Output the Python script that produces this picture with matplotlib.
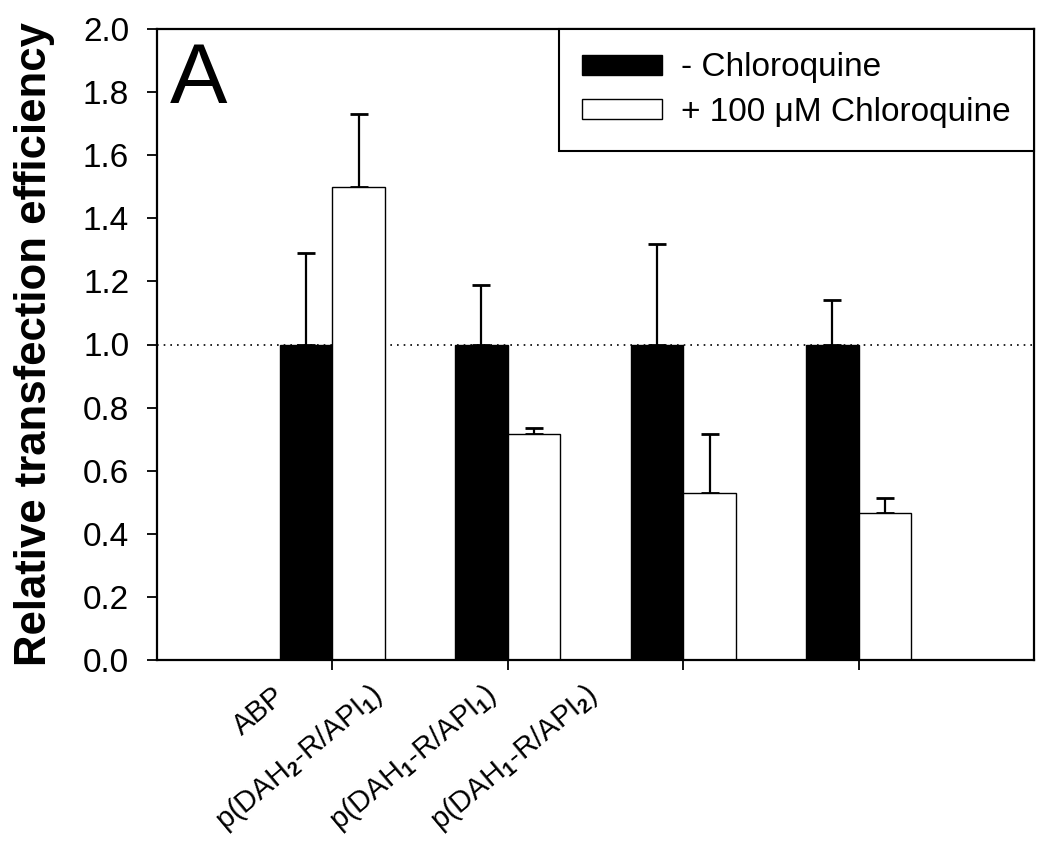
import matplotlib
matplotlib.use("Agg")
import matplotlib.pyplot as plt
import numpy as np

plt.rcParams['font.family'] = ['Liberation Sans', 'DejaVu Sans']
plt.rcParams['mathtext.fontset'] = 'custom'
plt.rcParams['mathtext.rm'] = 'Liberation Sans'
plt.rcParams['mathtext.bf'] = 'Liberation Sans:bold'
plt.rcParams['mathtext.it'] = 'Liberation Sans:italic'

# ---- data ----
categories = ['ABP',
              r'p(DAH$_{\mathbf{2}}$-R/API$_{\mathbf{1}}$)',
              r'p(DAH$_{\mathbf{1}}$-R/API$_{\mathbf{1}}$)',
              r'p(DAH$_{\mathbf{1}}$-R/API$_{\mathbf{2}}$)']
minus_chloroquine = [1.0, 1.0, 1.0, 1.0]
minus_err = [0.29, 0.19, 0.32, 0.14]
plus_chloroquine = [1.50, 0.715, 0.53, 0.465]
plus_err = [0.23, 0.02, 0.185, 0.048]
series_labels = ['- Chloroquine', '+ 100 μM Chloroquine']
yticks = [0.0, 0.2, 0.4, 0.6, 0.8, 1.0, 1.2, 1.4, 1.6, 1.8, 2.0]
reference_level = 1.0

fig = plt.figure(figsize=(10.5, 8.43), dpi=100)
ax = fig.add_axes([157/1050, 1-660/843, (1034-157)/1050, (660-29)/843])

x = np.arange(len(categories))
w = 0.3
ax.axhline(reference_level, color='black', linestyle=(0, (1, 3)), linewidth=1.2, zorder=1)

ax.bar(x - w/2, minus_chloroquine, w, color='black', edgecolor='black',
       linewidth=1.0, zorder=2, label=series_labels[0])
ax.bar(x + w/2, plus_chloroquine, w, color='white', edgecolor='black',
       linewidth=1.0, zorder=2, label=series_labels[1])
ax.errorbar(x - w/2, minus_chloroquine, yerr=[np.zeros(4), minus_err], fmt='none',
            ecolor='black', elinewidth=1.6, capsize=6.8, capthick=2.0, zorder=1.5)
ax.errorbar(x + w/2, plus_chloroquine, yerr=[np.zeros(4), plus_err], fmt='none',
            ecolor='black', elinewidth=1.6, capsize=6.8, capthick=2.0, zorder=1.5)

ax.set_xlim(-1, 4)
ax.set_ylim(0, 2.0)
ax.set_yticks(yticks)
ax.set_yticklabels([f'{v:.1f}' for v in yticks])
ax.set_xticks(x)
ax.set_xticklabels([''] * len(x))
ax.tick_params(axis='both', direction='out', length=7, width=1.3, color='black')
ax.tick_params(axis='y', labelsize=24, pad=13)
for sp in ax.spines.values():
    sp.set_linewidth(1.6)
    sp.set_color('black')

# rotated category labels
dx_pts = [-43, -100, -144, -198]
dy_pts = [-15.5, -13.5, -13.5, -13.5]
for i, lab in enumerate(categories):
    ax.annotate(lab, xy=(x[i], 0), xycoords='data',
                xytext=(dx_pts[i], dy_pts[i]), textcoords='offset points',
                rotation=40, rotation_mode='anchor', ha='right', va='top',
                fontsize=21, annotation_clip=False)

ax.set_ylabel('Relative transfection efficiency', fontsize=31.5, fontweight='bold')
ax.yaxis.set_label_coords(-0.116, 0.5)

ax.text(0.0148, (660-103)/631, 'A', transform=ax.transAxes, fontsize=62,
        ha='left', va='baseline')

leg = ax.legend(loc='upper right', bbox_to_anchor=(1.0, 1.0), borderaxespad=0,
                fontsize=24, handlelength=2.4, handleheight=0.55, handletextpad=0.57,
                labelspacing=0.4, borderpad=0.7, fancybox=False, framealpha=1,
                edgecolor='black')
leg.get_frame().set_linewidth(1.5)

fig.savefig('out.png', dpi=100)
